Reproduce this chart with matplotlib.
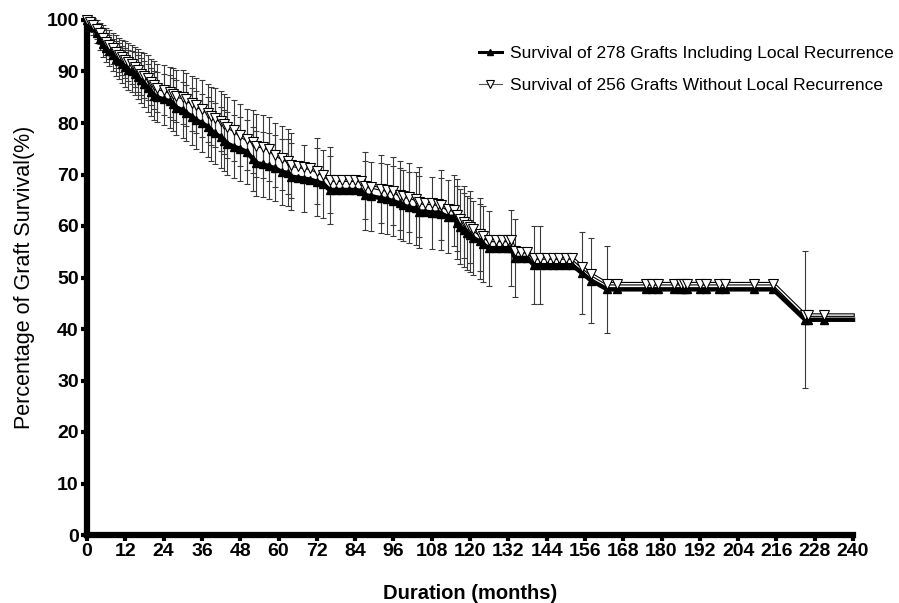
import matplotlib
matplotlib.use('Agg')
import matplotlib.pyplot as plt
import matplotlib.patheffects as pe
from matplotlib.lines import Line2D
import numpy as np

plt.rcParams['font.family'] = ['Liberation Sans', 'DejaVu Sans']

# months of each point on the curves
months = [0, 1, 2, 3, 4, 5, 6, 7, 8, 9,
          10, 11, 12, 13, 14, 15, 16, 17, 18, 19,
          20, 21, 22, 24, 26, 27, 28, 30, 31, 33,
          34, 36, 38, 39, 40, 42, 43, 44, 46, 48,
          50, 52, 53, 55, 57, 59, 61, 63, 64, 66,
          68, 70, 72, 74, 76, 78, 80, 82, 84, 86,
          87, 89, 92, 94, 96, 98, 99, 101, 103, 104,
          106, 108, 110, 111, 113, 115, 116, 117, 118, 119,
          120, 121, 123, 124, 126, 128, 130, 132, 133, 134,
          136, 138, 140, 142, 144, 146, 148, 150, 152, 155,
          158, 163, 166, 175, 177, 179, 184, 186, 187, 188,
          192, 194, 198, 200, 209, 215, 225, 226, 231, 240]

# survival (%) of 278 grafts including local recurrence
surv_inc = [100, 99.3, 98.6, 97.5, 96.4, 95.4, 94.6, 94.0, 93.2, 92.5,
            92.0, 91.4, 90.8, 90.3, 90.0, 89.6, 89.0, 88.3, 87.6, 86.8,
            86.0, 85.3, 85.0, 84.6, 84.2, 83.6, 83.0, 82.5, 82.0, 81.2,
            80.6, 80.0, 79.2, 78.5, 78.0, 77.2, 76.6, 76.0, 75.4, 75.0,
            74.4, 73.0, 72.2, 72.0, 71.6, 71.2, 70.5, 70.3, 69.6, 69.4,
            69.2, 69.0, 68.6, 68.2, 67.0, 67.0, 67.0, 67.0, 67.0, 66.8,
            66.0, 65.8, 65.4, 65.2, 64.8, 64.4, 64.0, 63.6, 63.4, 62.8,
            62.8, 62.6, 62.6, 62.4, 61.8, 61.8, 60.6, 59.9, 59.2, 58.6,
            58.3, 57.7, 57.0, 56.5, 55.7, 55.7, 55.7, 55.7, 55.7, 53.8,
            53.8, 53.8, 52.4, 52.4, 52.4, 52.4, 52.4, 52.4, 52.4, 50.9,
            49.4, 47.7, 47.7, 47.7, 47.7, 47.7, 47.7, 47.7, 47.7, 47.7,
            47.7, 47.7, 47.7, 47.7, 47.7, 47.7, 41.8, 41.8, 41.8, 41.8]

# survival (%) of 256 grafts without local recurrence
surv_wo = [100, 99.6, 99.0, 98.2, 97.4, 96.6, 95.8, 95.2, 94.5, 93.8,
           93.2, 92.8, 92.3, 91.8, 91.4, 90.8, 90.2, 89.6, 89.2, 88.8,
           88.0, 87.4, 86.8, 86.4, 86.0, 85.6, 85.2, 85.0, 84.6, 83.8,
           83.4, 82.8, 82.0, 81.4, 81.0, 80.4, 79.8, 79.2, 78.6, 77.6,
           76.8, 76.4, 75.6, 75.4, 75.0, 73.8, 73.2, 72.6, 71.8, 71.6,
           71.4, 71.2, 70.6, 70.0, 69.0, 68.9, 68.9, 68.9, 68.9, 68.8,
           67.8, 67.6, 67.2, 67.0, 66.8, 66.0, 65.8, 65.6, 65.2, 64.6,
           64.4, 64.4, 64.2, 64.0, 63.3, 63.1, 62.2, 61.4, 60.8, 60.2,
           59.8, 59.4, 58.4, 58.0, 57.2, 57.2, 57.2, 57.2, 57.2, 55.2,
           55.0, 55.0, 53.8, 53.8, 53.8, 53.8, 53.8, 53.8, 53.8, 52.1,
           50.6, 48.8, 48.8, 48.8, 48.8, 48.8, 48.8, 48.8, 48.8, 48.8,
           48.8, 48.8, 48.8, 48.8, 48.8, 48.8, 42.7, 42.7, 42.7, 42.7]

# error bar half widths (0 = no bar drawn)
err_inc = [0, 1.2, 1.6, 2.0, 2.3, 2.6, 2.8, 3.0, 3.2, 3.4,
           3.5, 3.6, 3.8, 3.9, 4.0, 4.1, 4.3, 4.4, 4.5, 4.6,
           4.7, 4.8, 4.9, 5.0, 5.1, 5.2, 5.3, 5.4, 5.4, 5.5,
           5.6, 5.7, 5.8, 5.8, 5.9, 6.0, 6.0, 6.1, 6.1, 6.2,
           6.2, 6.3, 6.3, 6.3, 6.4, 6.4, 6.4, 6.5, 6.5, 0,
           6.5, 0, 6.6, 6.6, 6.6, 0, 0, 0, 0, 0,
           6.7, 6.7, 6.8, 6.8, 6.8, 6.9, 6.9, 6.9, 7.0, 7.0,
           0, 7.0, 0, 7.0, 7.1, 0, 7.1, 7.2, 7.2, 7.2,
           7.2, 7.2, 7.3, 7.3, 7.3, 0, 0, 0, 7.4, 7.5,
           0, 0, 7.6, 7.6, 0, 0, 0, 0, 0, 8.0,
           8.2, 8.5, 0, 0, 0, 0, 0, 0, 0, 0,
           0, 0, 0, 0, 0, 0, 13.3, 0, 0, 0]

err_wo = [0, 1.0, 1.4, 1.8, 2.1, 2.4, 2.6, 2.8, 3.0, 3.2,
          3.3, 3.4, 3.6, 3.7, 3.8, 3.9, 4.1, 4.2, 4.3, 4.4,
          4.5, 4.6, 4.7, 4.8, 4.9, 5.0, 5.1, 5.2, 5.2, 5.3,
          5.4, 5.5, 5.6, 5.6, 5.7, 5.8, 5.8, 5.9, 5.9, 6.0,
          6.0, 6.1, 6.1, 6.1, 6.2, 6.2, 6.2, 6.3, 6.3, 0,
          0, 0, 6.4, 0, 6.4, 0, 0, 0, 0, 0,
          6.5, 0, 6.6, 0, 6.6, 6.7, 0, 6.7, 0, 6.8,
          0, 0, 0, 6.8, 0, 6.9, 7.0, 0, 7.0, 0,
          7.0, 0, 7.1, 0, 0, 0, 0, 0, 0, 0,
          0, 0, 0, 0, 0, 0, 0, 0, 0, 0,
          0, 0, 0, 0, 0, 0, 0, 0, 0, 0,
          0, 0, 0, 0, 0, 0, 0, 0, 0, 0]

label_inc = 'Survival of 278 Grafts Including Local Recurrence'
label_wo = 'Survival of 256 Grafts Without Local Recurrence'

x = np.array(months)
yi = np.array(surv_inc)
yw = np.array(surv_wo)
ei = np.array(err_inc)
ew = np.array(err_wo)

fig = plt.figure(figsize=(8.99, 6.03), dpi=100)
ax = fig.add_axes([87/899, 68/603, 766/899, 515/603])

# error bars
m = ei > 0
ax.errorbar(x[m], yi[m], yerr=ei[m], fmt='none', ecolor='#3a3a3a',
            elinewidth=0.8, capsize=2.5, capthick=0.8, zorder=1, clip_on=False)
m = ew > 0
ax.errorbar(x[m], yw[m], yerr=ew[m], fmt='none', ecolor='#3a3a3a',
            elinewidth=0.8, capsize=2.5, capthick=0.8, zorder=1, clip_on=False)

# curve including local recurrence: thick black line, filled up triangles
ax.plot(x, yi, '-', color='black', lw=3.2, zorder=3, clip_on=False)
ax.plot(x[:-1], yi[:-1], ls='none', marker='^', ms=5.5, color='black',
        zorder=4, clip_on=False)

# curve without local recurrence: outlined white line, open down triangles
ax.plot(x, yw, '-', color='white', lw=1.0, zorder=5, clip_on=False,
        path_effects=[pe.Stroke(linewidth=2.6, foreground='black'), pe.Normal()])
ax.plot(x[:-1], yw[:-1], ls='none', marker='v', ms=6.5, mfc='white',
        mec='black', mew=0.8, zorder=6, clip_on=False)

ax.set_xlim(0, 240)
ax.set_ylim(0, 100)
ax.set_xticks(np.arange(0, 241, 12))
ax.set_yticks(np.arange(0, 101, 10))

for s in ['top', 'right']:
    ax.spines[s].set_visible(False)
for s in ['left', 'bottom']:
    ax.spines[s].set_linewidth(4.5)
ax.tick_params(direction='out', length=4, width=3, labelsize=14, pad=2)
plt.setp(ax.get_xticklabels() + ax.get_yticklabels(), fontweight='bold')

ax.set_xlabel('Duration (months)', fontsize=14.5, fontweight='bold', labelpad=17)
ax.set_ylabel('Percentage of Graft Survival(%)', fontsize=15.5, labelpad=8)

handles = [Line2D([], [], color='black', lw=2.2, marker='^', ms=5),
           Line2D([], [], color='#555555', lw=0.8, marker='v', ms=6,
                  mfc='white', mec='black', mew=0.8)]
fig.legend(handles, [label_inc, label_wo], loc='upper left',
           bbox_to_anchor=(472/899, 1 - 39/603), frameon=False,
           fontsize=12.5, handlelength=1.3, handletextpad=0.5,
           labelspacing=0.95, borderaxespad=0)

fig.savefig('out.png', dpi=100)
